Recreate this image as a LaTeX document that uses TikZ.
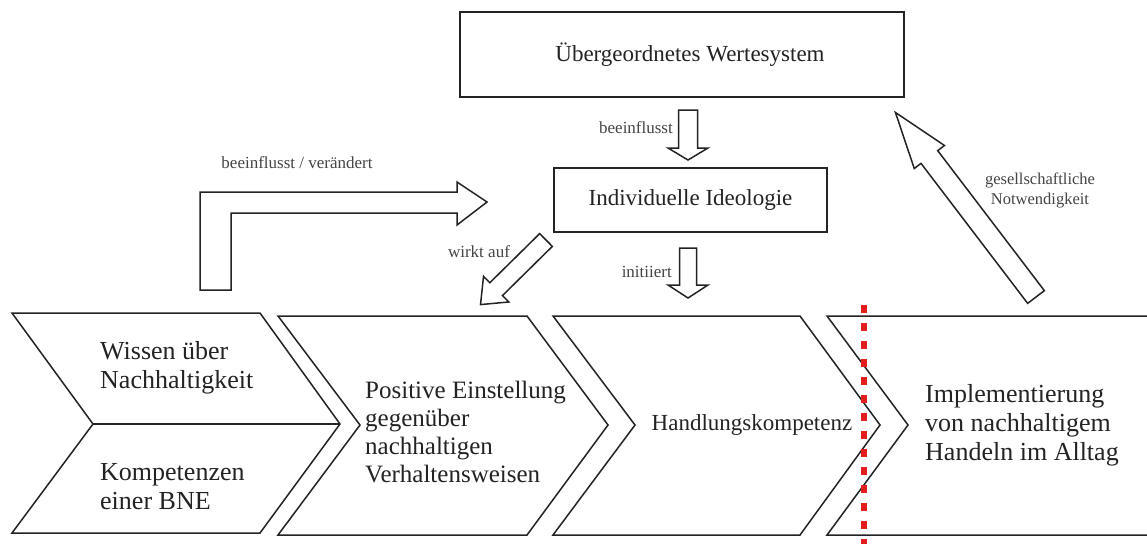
\documentclass[tikz,border=0pt]{standalone}
\usepackage{fontspec}
\setmainfont{Liberation Serif}
\definecolor{redline}{RGB}{225,30,25}
\definecolor{ink}{RGB}{35,35,35}
\begin{document}
\begin{tikzpicture}[x=1pt,y=-1pt,
  outline/.style={draw=ink, line width=1.5pt, line join=miter},
  bigtext/.style={font=\fontsize{26}{29}\selectfont, text=ink, align=left, inner sep=0pt},
  midtext/.style={font=\fontsize{23}{27}\selectfont, text=ink, inner sep=0pt},
  smalltext/.style={font=\fontsize{17}{20}\selectfont, text=ink!85, inner sep=0pt},
  boxnode/.style={outline, fill=white, inner sep=0pt},
  pics/barrow/.style n args={4}{code={
    \draw[outline, fill=white] (0,-#2) -- (#1-#4,-#2) -- (#1-#4,-#3) -- (#1,0)
      -- (#1-#4,#3) -- (#1-#4,#2) -- (0,#2) -- cycle;}}
]
\useasboundingbox[fill=white] (0,0) rectangle (1147,544);

% chevrons
\draw[outline] (12,313) -- (260,313) -- (340,424) -- (260,533) -- (12,533) -- (93,424) -- cycle;
\draw[outline] (93,424) -- (340,424);
\draw[outline] (278,316) -- (527,316) -- (608,425) -- (527,535) -- (278,535) -- (360,425) -- cycle;
\draw[outline] (553,316) -- (800,316) -- (880,425) -- (800,535) -- (553,535) -- (635,425) -- cycle;
\draw[outline] (1150,316) -- (827,316) -- (908,425) -- (827,535) -- (1150,535);

% chevron texts
\node[bigtext, anchor=west] (wissen) at (100,368) {Wissen über\\Nachhaltigkeit};
\node[bigtext, anchor=west] (kompetenz) at (100,487) {Kompetenzen\\einer BNE};
\node[bigtext, anchor=west, font=\fontsize{25}{28}\selectfont] (einstellung) at (365,432) {Positive Einstellung\\gegenüber\\nachhaltigen\\Verhaltensweisen};
\node[midtext] (handlung) at (752,425) {Handlungskompetenz};
\node[bigtext, anchor=west] (implement) at (925,425) {Implementierung\\von nachhaltigem\\Handeln im Alltag};

% red dotted line
\coordinate (redtop) at (864,305);
\coordinate (redbot) at (864,544);
\draw[redline, line width=5.5pt, dash pattern=on 8pt off 10pt] (redtop) -- (redbot);

% top boxes
\node[boxnode, minimum width=444pt, minimum height=85pt] (werte) at (682,54.5) {};
\node[midtext] (wertetext) at (690,55) {Übergeordnetes Wertesystem};
\node[boxnode, minimum width=273pt, minimum height=64pt, midtext] (ideo) at (690.5,200) {Individuelle Ideologie};

% block arrows
\pic at (688,110) [rotate=-90] {barrow={50}{9.5}{20}{12}};
\pic at (688,248) [rotate=-90] {barrow={50}{8.5}{20}{13}};
\pic at (546,240) [rotate=-135.4] {barrow={92}{9}{18}{22}};
\pic at (1036,297) [rotate=127.3] {barrow={232}{10.5}{19}{56}};
\draw[outline, fill=white] (200,290) -- (200,192) -- (457,192) -- (457,182) -- (487,202)
  -- (457,225) -- (457,213) -- (231,213) -- (231,290) -- cycle;

% labels
\node[smalltext] (lbl1) at (297,163) {beeinflusst / verändert};
\node[smalltext, anchor=east] (lbl2) at (673,128) {beeinflusst};
\node[smalltext, anchor=east] (lbl3) at (672,272) {initiiert};
\node[smalltext] (lbl4) at (479,252) {wirkt auf};
\node[smalltext, align=center, font=\fontsize{16.5}{20}\selectfont] (lbl5) at (1040,190) {gesellschaftliche\\Notwendigkeit};
\end{tikzpicture}
\end{document}
